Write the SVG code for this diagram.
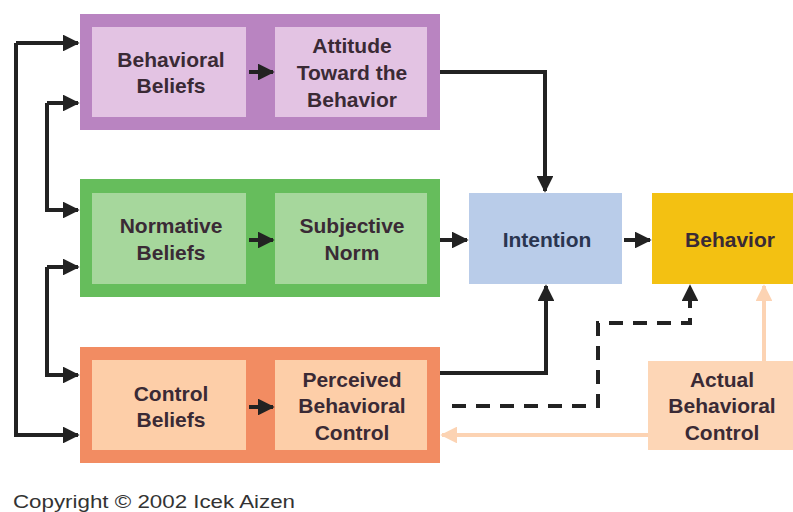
<svg xmlns="http://www.w3.org/2000/svg" width="793" height="512" viewBox="0 0 793 512">
<defs>
<marker id="ah" viewBox="0 0 10 10" refX="9" refY="5" markerWidth="4.2" markerHeight="4.2" markerUnits="strokeWidth" orient="auto">
<path d="M0,0 L10,5 L0,10 Z" fill="#222"/>
</marker>
<marker id="ahl" viewBox="0 0 10 10" refX="9" refY="5" markerWidth="4.2" markerHeight="4.2" markerUnits="strokeWidth" orient="auto">
<path d="M0,0 L10,5 L0,10 Z" fill="#fcd3b3"/>
</marker>
</defs>
<style>
.t{font-family:"Liberation Sans",Arial,sans-serif;font-weight:bold;font-size:21px;fill:#3a2a35;text-anchor:middle}
.c{fill:none;stroke:#222;stroke-width:4}
.d{fill:none;stroke:#222;stroke-width:4;stroke-dasharray:14,10}
.l{fill:none;stroke:#fcd3b3;stroke-width:4}
</style>
<rect width="793" height="512" fill="#ffffff"/>
<g id="attitude-group">
<rect x="80" y="14" width="360" height="116" fill="#b984c1"/>
<g id="behavioral-beliefs">
<rect x="92" y="27" width="154" height="90" fill="#e3c3e3"/>
<text class="t" x="171" y="67">Behavioral</text>
<text class="t" x="171" y="93">Beliefs</text>
</g>
<g id="attitude">
<rect x="275" y="27" width="152" height="90" fill="#e3c3e3"/>
<text class="t" x="352" y="53">Attitude</text>
<text class="t" x="352" y="80">Toward the</text>
<text class="t" x="352" y="107">Behavior</text>
</g>
</g>
<g id="norm-group">
<rect x="80" y="179" width="360" height="118" fill="#66bd5c"/>
<g id="normative-beliefs">
<rect x="92" y="193" width="154" height="91" fill="#a6d79c"/>
<text class="t" x="171" y="233">Normative</text>
<text class="t" x="171" y="260">Beliefs</text>
</g>
<g id="subjective-norm">
<rect x="275" y="193" width="152" height="91" fill="#a6d79c"/>
<text class="t" x="352" y="233">Subjective</text>
<text class="t" x="352" y="260">Norm</text>
</g>
</g>
<g id="control-group">
<rect x="80" y="347" width="360" height="116" fill="#f28c62"/>
<g id="control-beliefs">
<rect x="92" y="360" width="154" height="90" fill="#fdcea8"/>
<text class="t" x="171" y="401">Control</text>
<text class="t" x="171" y="427">Beliefs</text>
</g>
<g id="perceived-control">
<rect x="275" y="360" width="152" height="90" fill="#fdcea8"/>
<text class="t" x="352" y="387">Perceived</text>
<text class="t" x="352" y="413">Behavioral</text>
<text class="t" x="352" y="440">Control</text>
</g>
</g>
<g id="intention">
<rect x="469" y="193" width="153" height="91" fill="#b9cce9"/>
<text class="t" x="547" y="247" style="fill:#2a3550">Intention</text>
</g>
<g id="behavior">
<rect x="652" y="193" width="141" height="91" fill="#f3c112"/>
<text class="t" x="730" y="247">Behavior</text>
</g>
<g id="actual-control">
<rect x="648" y="361" width="145" height="89" fill="#fdd6b6"/>
<text class="t" x="722" y="387">Actual</text>
<text class="t" x="722" y="413">Behavioral</text>
<text class="t" x="722" y="440">Control</text>
</g>
<g id="connectors">
<path class="c" d="M16,43 V435 H78" marker-end="url(#ah)"/>
<path class="c" d="M16,43 H78" marker-end="url(#ah)"/>
<path class="c" d="M47,103 V210 H78" marker-end="url(#ah)"/>
<path class="c" d="M47,103 H78" marker-end="url(#ah)"/>
<path class="c" d="M47,267 V375 H78" marker-end="url(#ah)"/>
<path class="c" d="M47,267 H78" marker-end="url(#ah)"/>
<path class="c" d="M249,72 H273" marker-end="url(#ah)"/>
<path class="c" d="M249,240 H273" marker-end="url(#ah)"/>
<path class="c" d="M249,407 H273" marker-end="url(#ah)"/>
<path class="c" d="M440,72 H545 V191" marker-end="url(#ah)"/>
<path class="c" d="M440,240 H467" marker-end="url(#ah)"/>
<path class="c" d="M440,373 H546 V286" marker-end="url(#ah)"/>
<path class="c" d="M624,240 H650" marker-end="url(#ah)"/>
<path class="d" d="M452,406 H598 V323 H690 V286" marker-end="url(#ah)"/>
<path class="l" d="M764,361 V286" marker-end="url(#ahl)"/>
<path class="l" d="M648,435 H442" marker-end="url(#ahl)"/>
</g>
<text x="13" y="508" textLength="282" lengthAdjust="spacingAndGlyphs" style="font-family:'Liberation Sans',Arial,sans-serif;font-size:18px;fill:#333">Copyright © 2002 Icek Aizen</text>
</svg>
